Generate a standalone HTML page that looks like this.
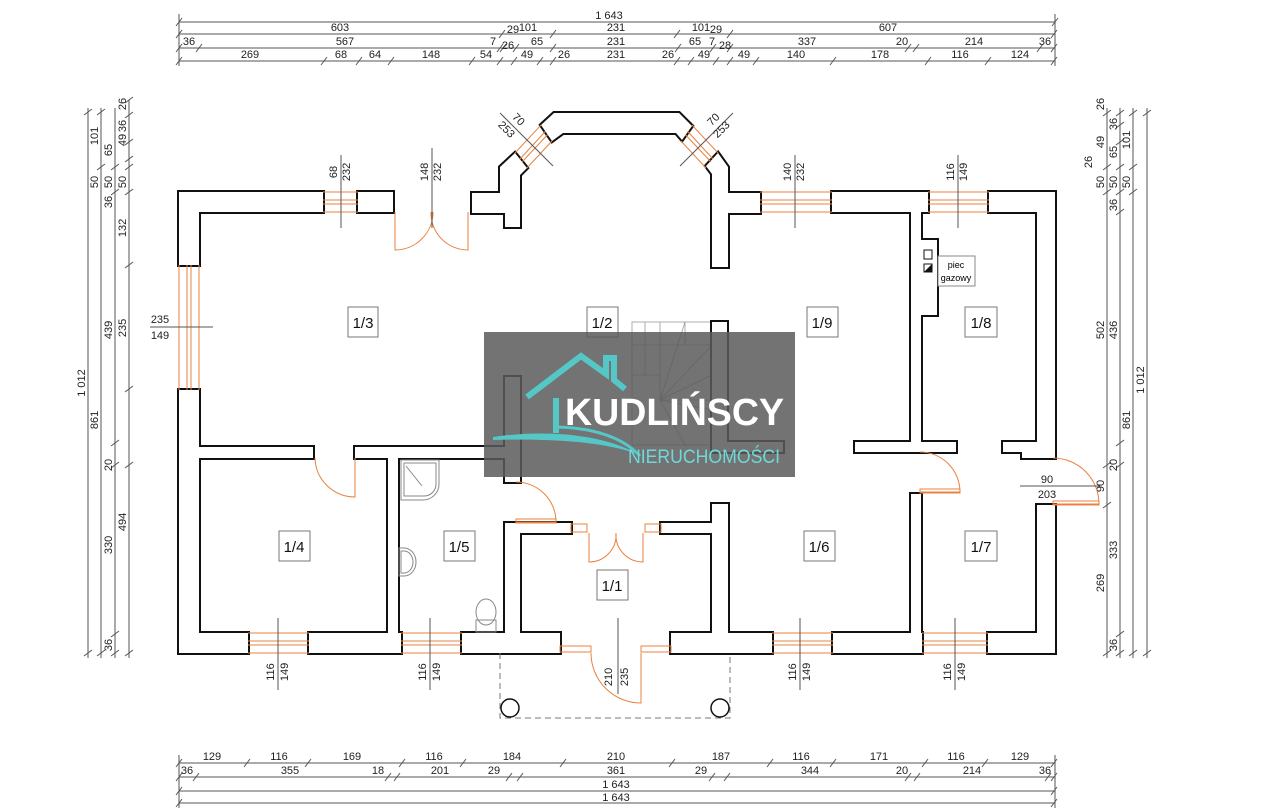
<!DOCTYPE html>
<html><head><meta charset="utf-8"><style>
html,body{margin:0;padding:0;background:#fff;}
svg{display:block;font-family:"Liberation Sans",sans-serif;}
.d{stroke:#555;stroke-width:1;fill:none}
.t{font-size:11px;fill:#222;text-anchor:middle}
.o{stroke:#e8823f;stroke-width:1;fill:none}
.wb rect,.wb polygon{stroke:#111;stroke-width:4}
.ww rect,.ww polygon{fill:#fff;stroke:none}
.lb{fill:#fff;stroke:#777;stroke-width:1}
.lt{font-size:15px;fill:#111;text-anchor:middle}
</style></head><body>
<svg width="1280" height="808" viewBox="0 0 1280 808" xmlns="http://www.w3.org/2000/svg">

<!-- TOP DIMENSIONS -->
<g class="d">
<line x1="179" y1="22" x2="1055" y2="22"/>
<line x1="179" y1="34" x2="1055" y2="34"/>
<line x1="179" y1="48" x2="1055" y2="48"/>
<line x1="179" y1="61" x2="1055" y2="61"/>
<path d="M176 26l6-8M1052 26l6-8
M176 38l6-8M499 38l6-8M550 38l6-8M674 38l6-8M727 38l6-8M1051 38l6-8
M176 52l6-8M196 52l6-8M497 52l6-8M500 52l6-8M513 52l6-8M550 52l6-8M675 52l6-8M710 52l6-8M727 52l6-8M905 52l6-8M913 52l6-8M1037 52l6-8M1051 52l6-8
M176 65l6-8M321 65l6-8M356 65l6-8M388 65l6-8M469 65l6-8M497 65l6-8M511 65l6-8M537 65l6-8M550 65l6-8M674 65l6-8M688 65l6-8M713 65l6-8M727 65l6-8M753 65l6-8M830 65l6-8M925 65l6-8M985 65l6-8M1051 65l6-8"/>
<line x1="179" y1="14" x2="179" y2="66"/><line x1="1055" y1="14" x2="1055" y2="66"/>
</g>
<g class="t">
<text x="609" y="19">1 643</text>
<text x="340" y="31">603</text><text x="513" y="33">29</text><text x="528" y="31">101</text><text x="616" y="31">231</text><text x="701" y="31">101</text><text x="716" y="33">29</text><text x="888" y="31">607</text>
<text x="189" y="45">36</text><text x="345" y="45">567</text><text x="493" y="45">7</text><text x="508" y="49">26</text><text x="537" y="45">65</text><text x="616" y="45">231</text><text x="695" y="45">65</text><text x="712" y="45">7</text><text x="725" y="49">28</text><text x="807" y="45">337</text><text x="902" y="45">20</text><text x="974" y="45">214</text><text x="1045" y="45">36</text>
<text x="250" y="58">269</text><text x="341" y="58">68</text><text x="375" y="58">64</text><text x="431" y="58">148</text><text x="486" y="58">54</text><text x="527" y="58">49</text><text x="564" y="58">26</text><text x="616" y="58">231</text><text x="668" y="58">26</text><text x="704" y="58">49</text><text x="744" y="58">49</text><text x="796" y="58">140</text><text x="880" y="58">178</text><text x="960" y="58">116</text><text x="1020" y="58">124</text>
</g>

<!-- BOTTOM DIMENSIONS -->
<g class="d">
<line x1="179" y1="763" x2="1055" y2="763"/>
<line x1="179" y1="777" x2="1055" y2="777"/>
<line x1="179" y1="791" x2="1055" y2="791"/>
<line x1="179" y1="803" x2="1055" y2="803"/>
<path d="M176 767l6-8M244 767l6-8M305 767l6-8M399 767l6-8M460 767l6-8M560 767l6-8M669 767l6-8M767 767l6-8M830 767l6-8M922 767l6-8M982 767l6-8M1051 767l6-8
M176 781l6-8M193 781l6-8M385 781l6-8M394 781l6-8M506 781l6-8M517 781l6-8M709 781l6-8M724 781l6-8M905 781l6-8M914 781l6-8M1045 781l6-8M1051 781l6-8
M176 795l6-8M1051 795l6-8M176 807l6-8M1051 807l6-8"/>
<line x1="179" y1="755" x2="179" y2="808"/><line x1="1055" y1="755" x2="1055" y2="808"/>
</g>
<g class="t">
<text x="212" y="760">129</text><text x="279" y="760">116</text><text x="352" y="760">169</text><text x="434" y="760">116</text><text x="512" y="760">184</text><text x="616" y="760">210</text><text x="721" y="760">187</text><text x="801" y="760">116</text><text x="879" y="760">171</text><text x="956" y="760">116</text><text x="1020" y="760">129</text>
<text x="187" y="774">36</text><text x="290" y="774">355</text><text x="378" y="774">18</text><text x="440" y="774">201</text><text x="494" y="774">29</text><text x="616" y="774">361</text><text x="701" y="774">29</text><text x="810" y="774">344</text><text x="902" y="774">20</text><text x="972" y="774">214</text><text x="1045" y="774">36</text>
<text x="616" y="788">1 643</text><text x="616" y="801">1 643</text>
</g>

<!-- LEFT DIMENSIONS -->
<g class="d">
<line x1="88" y1="108" x2="88" y2="658"/>
<line x1="101" y1="108" x2="101" y2="658"/>
<line x1="115" y1="108" x2="115" y2="658"/>
<line x1="129" y1="100" x2="129" y2="658"/>
<path d="M84 115l8-6M84 656l8-6M97 115l8-6M97 170l8-6M97 656l8-6M111 170l8-6M111 195l8-6M111 446l8-6M111 468l8-6M111 637l8-6M111 656l8-6
M125 103l8-6M125 118l8-6M125 145l8-6M125 162l8-6M125 170l8-6M125 195l8-6M125 268l8-6M125 392l8-6M125 468l8-6M125 656l8-6"/>
</g>
<g class="t">
<text transform="translate(85,383) rotate(-90)">1 012</text>
<text transform="translate(98,136) rotate(-90)">101</text><text transform="translate(98,182) rotate(-90)">50</text><text transform="translate(98,420) rotate(-90)">861</text>
<text transform="translate(112,150) rotate(-90)">65</text><text transform="translate(112,182) rotate(-90)">50</text><text transform="translate(112,202) rotate(-90)">36</text><text transform="translate(112,330) rotate(-90)">439</text><text transform="translate(112,545) rotate(-90)">330</text><text transform="translate(112,645) rotate(-90)">36</text>
<text transform="translate(126,104) rotate(-90)">26</text><text transform="translate(126,126) rotate(-90)">36</text><text transform="translate(126,140) rotate(-90)">49</text><text transform="translate(126,182) rotate(-90)">50</text><text transform="translate(126,228) rotate(-90)">132</text><text transform="translate(126,328) rotate(-90)">235</text><text transform="translate(112,465) rotate(-90)">20</text><text transform="translate(126,522) rotate(-90)">494</text>
</g>

<!-- RIGHT DIMENSIONS -->
<g class="d">
<line x1="1107" y1="108" x2="1107" y2="658"/>
<line x1="1120" y1="108" x2="1120" y2="658"/>
<line x1="1133" y1="108" x2="1133" y2="658"/>
<line x1="1147" y1="108" x2="1147" y2="658"/>
<path d="M1103 116l8-6M1103 170l8-6M1103 195l8-6M1103 468l8-6M1103 508l8-6M1103 656l8-6
M1116 116l8-6M1116 128l8-6M1116 145l8-6M1116 170l8-6M1116 195l8-6M1116 215l8-6M1116 446l8-6M1116 468l8-6M1116 637l8-6M1116 656l8-6
M1129 116l8-6M1129 170l8-6M1129 195l8-6M1129 656l8-6M1143 116l8-6M1143 656l8-6"/>
</g>
<g class="t">
<text transform="translate(1104,104) rotate(-90)">26</text><text transform="translate(1104,142) rotate(-90)">49</text><text transform="translate(1092,162) rotate(-90)">26</text><text transform="translate(1104,182) rotate(-90)">50</text><text transform="translate(1104,330) rotate(-90)">502</text><text transform="translate(1104,583) rotate(-90)">269</text><text transform="translate(1104,486) rotate(-90)">90</text>
<text transform="translate(1117,124) rotate(-90)">36</text><text transform="translate(1117,152) rotate(-90)">65</text><text transform="translate(1117,182) rotate(-90)">50</text><text transform="translate(1117,205) rotate(-90)">36</text><text transform="translate(1117,330) rotate(-90)">436</text><text transform="translate(1117,465) rotate(-90)">20</text><text transform="translate(1117,550) rotate(-90)">333</text><text transform="translate(1117,645) rotate(-90)">36</text>
<text transform="translate(1130,140) rotate(-90)">101</text><text transform="translate(1130,182) rotate(-90)">50</text><text transform="translate(1130,420) rotate(-90)">861</text>
<text transform="translate(1144,380) rotate(-90)">1 012</text>
</g>

<!-- STAIRS -->
<g stroke="#999" stroke-width="0.8" fill="none">
<rect x="632" y="322" width="80" height="123"/>
<line x1="632" y1="345" x2="712" y2="345"/><line x1="632" y1="375" x2="660" y2="375"/>
<line x1="645" y1="322" x2="645" y2="375"/><line x1="660" y1="322" x2="660" y2="400"/><line x1="685" y1="322" x2="685" y2="345"/>
<line x1="660" y1="400" x2="685" y2="322"/><line x1="660" y1="400" x2="712" y2="345"/><line x1="660" y1="400" x2="712" y2="375"/><line x1="660" y1="400" x2="712" y2="410"/><line x1="660" y1="400" x2="685" y2="445"/>
<line x1="660" y1="400" x2="712" y2="400"/>
</g>

<!-- WALLS -->
<g class="wb">
<rect x="179" y="192" width="144" height="20"/><rect x="179" y="192" width="20" height="73"/><rect x="358" y="192" width="35" height="20"/>
<polygon points="472,193 500,193 500,167 515,153 527,168 520,175 520,227 505,227 505,213 472,213"/>
<polygon points="541,125 554,113 679,113 692,126 682,140 676,133 563,133 552,141"/>
<polygon points="760,193 728,193 728,167 718,153 706,166 712,174 712,267 728,267 728,213 760,213"/>
<rect x="832" y="192" width="96" height="20"/><rect x="989" y="192" width="66" height="20"/>
<rect x="1037" y="192" width="18" height="266"/><rect x="1037" y="505" width="18" height="148"/>
<rect x="1003" y="442" width="34" height="10"/><rect x="1022" y="448" width="15" height="10"/>
<rect x="911" y="212" width="10" height="240"/><rect x="921" y="240" width="16" height="75"/>
<rect x="855" y="442" width="101" height="10"/><rect x="911" y="494" width="10" height="139"/>
<rect x="179" y="390" width="20" height="263"/>
<rect x="199" y="447" width="114" height="11"/><rect x="355" y="447" width="150" height="11"/>
<rect x="505" y="377" width="15" height="105"/>
<rect x="712" y="322" width="15" height="130"/><rect x="727" y="442" width="56" height="10"/>
<rect x="388" y="458" width="10" height="175"/>
<rect x="505" y="523" width="15" height="110"/><rect x="505" y="523" width="66" height="10"/>
<rect x="661" y="523" width="51" height="10"/><rect x="712" y="504" width="16" height="129"/>
<rect x="179" y="633" width="69" height="20"/><rect x="309" y="633" width="92" height="20"/><rect x="462" y="633" width="98" height="20"/>
<rect x="671" y="633" width="101" height="20"/><rect x="833" y="633" width="89" height="20"/><rect x="988" y="633" width="67" height="20"/>
</g>
<g class="ww">
<rect x="179" y="192" width="144" height="20"/><rect x="179" y="192" width="20" height="73"/><rect x="358" y="192" width="35" height="20"/>
<polygon points="472,193 500,193 500,167 515,153 527,168 520,175 520,227 505,227 505,213 472,213"/>
<polygon points="541,125 554,113 679,113 692,126 682,140 676,133 563,133 552,141"/>
<polygon points="760,193 728,193 728,167 718,153 706,166 712,174 712,267 728,267 728,213 760,213"/>
<rect x="832" y="192" width="96" height="20"/><rect x="989" y="192" width="66" height="20"/>
<rect x="1037" y="192" width="18" height="266"/><rect x="1037" y="505" width="18" height="148"/>
<rect x="1003" y="442" width="34" height="10"/><rect x="1022" y="448" width="15" height="10"/>
<rect x="911" y="212" width="10" height="240"/><rect x="921" y="240" width="16" height="75"/>
<rect x="855" y="442" width="101" height="10"/><rect x="911" y="494" width="10" height="139"/>
<rect x="179" y="390" width="20" height="263"/>
<rect x="199" y="447" width="114" height="11"/><rect x="355" y="447" width="150" height="11"/>
<rect x="505" y="377" width="15" height="105"/>
<rect x="712" y="322" width="15" height="130"/><rect x="727" y="442" width="56" height="10"/>
<rect x="388" y="458" width="10" height="175"/>
<rect x="505" y="523" width="15" height="110"/><rect x="505" y="523" width="66" height="10"/>
<rect x="661" y="523" width="51" height="10"/><rect x="712" y="504" width="16" height="129"/>
<rect x="179" y="633" width="69" height="20"/><rect x="309" y="633" width="92" height="20"/><rect x="462" y="633" width="98" height="20"/>
<rect x="671" y="633" width="101" height="20"/><rect x="833" y="633" width="89" height="20"/><rect x="988" y="633" width="67" height="20"/>
</g>

<!-- WINDOWS -->
<g class="o">
<path d="M323 192h35M323 212h35M323 200h35M323 204h35"/>
<path d="M760 192h72M760 212h72M760 200h72M760 204h72"/>
<path d="M928 192h61M928 212h61M928 200h61M928 204h61"/>
<path d="M179 265v125M199 265v125M187 265v125M191 265v125"/>
<path d="M248 633h61M248 653h61M248 641h61M248 645h61"/>
<path d="M401 633h61M401 653h61M401 641h61M401 645h61"/>
<path d="M772 633h61M772 653h61M772 641h61M772 645h61"/>
<path d="M922 633h66M922 653h66M922 641h66M922 645h66"/>
<path d="M541 125L515 153M552 141L527 168M545.4 131.4L520 159M547.6 134.6L522 162"/>
<path d="M692 125L718 153M681 141L706 168M687.6 131.4L713 159M685.4 134.6L711 162"/>
<!-- doors -->
<path d="M395 212v38A38 38 0 0 0 433 212"/><path d="M468 212v38A37 37 0 0 1 431 212"/>
<path d="M355 458v39A40 40 0 0 1 315 458"/>
<path d="M516 482A40 40 0 0 1 556 522H516"/><rect x="516" y="519" width="40" height="4"/>
<path d="M589 533v29A27 27 0 0 0 616 533"/><path d="M643 533v29A27 27 0 0 1 616 533"/>
<rect x="571" y="524" width="16" height="8"/><rect x="645" y="524" width="16" height="8"/>
<path d="M591 653A50 50 0 0 0 641 703V653"/><rect x="560" y="646" width="31" height="6"/><rect x="641" y="646" width="30" height="6"/>
<path d="M920 452A40 40 0 0 1 960 492H920"/><rect x="920" y="489" width="40" height="4"/>
<path d="M1053 458A46 46 0 0 1 1099 504H1053"/><rect x="1053" y="501" width="46" height="4"/>
</g>

<!-- porch -->
<g stroke="#777" stroke-width="1" fill="none" stroke-dasharray="6,4">
<path d="M500 653V718H730V653"/>
</g>
<circle cx="510" cy="708" r="9" fill="#fff" stroke="#111" stroke-width="1.5"/>
<circle cx="720" cy="708" r="9" fill="#fff" stroke="#111" stroke-width="1.5"/>

<!-- fixtures -->
<g stroke="#888" stroke-width="1" fill="none">
<path d="M401 460h38v24a16 16 0 0 1-16 16h-22z"/><path d="M404 463h32v20a12 12 0 0 1-12 13h-20z"/><line x1="406" y1="466" x2="422" y2="486"/>
<path d="M399 548h5a12 14 0 0 1 0 28h-5z"/><path d="M401 551h3a9 11 0 0 1 0 22h-3z"/>
<ellipse cx="486" cy="612" rx="10" ry="13"/><path d="M476 620h20v12h-20z"/>
</g>
<rect x="924" y="250" width="8" height="9" fill="#fff" stroke="#111"/>
<rect x="924" y="264" width="8" height="8" fill="#fff" stroke="#111"/><path d="M924 272l8-8v8z" fill="#111"/>
<rect x="938" y="256" width="37" height="30" fill="#fff" stroke="#888"/>
<text x="956" y="268" style="font-size:9px;text-anchor:middle">piec</text>
<text x="956" y="281" style="font-size:9px;text-anchor:middle">gazowy</text>

<!-- window / door dim lines -->
<g class="d" stroke="#666">
<line x1="341" y1="155" x2="341" y2="228"/><line x1="432" y1="148" x2="432" y2="228"/>
<line x1="795" y1="155" x2="795" y2="228"/><line x1="958" y1="155" x2="958" y2="228"/>
<line x1="150" y1="327" x2="213" y2="327"/>
<line x1="278" y1="618" x2="278" y2="690"/><line x1="430" y1="618" x2="430" y2="690"/>
<line x1="618" y1="618" x2="618" y2="694"/>
<line x1="800" y1="618" x2="800" y2="690"/><line x1="955" y1="618" x2="955" y2="690"/>
<line x1="1020" y1="486" x2="1100" y2="486"/>
<line x1="500" y1="113" x2="553" y2="166"/><line x1="733" y1="113" x2="680" y2="166"/>
</g>
<g class="t">
<text transform="translate(337,172) rotate(-90)">68</text><text transform="translate(350,172) rotate(-90)">232</text>
<text transform="translate(428,172) rotate(-90)">148</text><text transform="translate(441,172) rotate(-90)">232</text>
<text transform="translate(791,172) rotate(-90)">140</text><text transform="translate(804,172) rotate(-90)">232</text>
<text transform="translate(954,172) rotate(-90)">116</text><text transform="translate(967,172) rotate(-90)">149</text>
<text x="160" y="323">235</text><text x="160" y="339">149</text>
<text transform="translate(274,672) rotate(-90)">116</text><text transform="translate(288,672) rotate(-90)">149</text>
<text transform="translate(426,672) rotate(-90)">116</text><text transform="translate(440,672) rotate(-90)">149</text>
<text transform="translate(612,677) rotate(-90)">210</text><text transform="translate(628,677) rotate(-90)">235</text>
<text transform="translate(796,672) rotate(-90)">116</text><text transform="translate(810,672) rotate(-90)">149</text>
<text transform="translate(951,672) rotate(-90)">116</text><text transform="translate(965,672) rotate(-90)">149</text>
<text x="1047" y="483">90</text><text x="1047" y="498">203</text>
<text transform="translate(516,122) rotate(45)">70</text><text transform="translate(504,132) rotate(45)">253</text>
<text transform="translate(716,122) rotate(-45)">70</text><text transform="translate(724,132) rotate(-45)">253</text>
</g>

<!-- room labels -->
<g>
<rect class="lb" x="348" y="307" width="30" height="30"/><text class="lt" x="363" y="328">1/3</text>
<rect class="lb" x="587" y="307" width="31" height="30"/><text class="lt" x="602" y="328">1/2</text>
<rect class="lb" x="807" y="307" width="31" height="30"/><text class="lt" x="822" y="328">1/9</text>
<rect class="lb" x="965" y="307" width="32" height="30"/><text class="lt" x="981" y="328">1/8</text>
<rect class="lb" x="279" y="531" width="31" height="30"/><text class="lt" x="294" y="552">1/4</text>
<rect class="lb" x="444" y="531" width="31" height="30"/><text class="lt" x="459" y="552">1/5</text>
<rect class="lb" x="597" y="570" width="31" height="30"/><text class="lt" x="612" y="591">1/1</text>
<rect class="lb" x="804" y="531" width="31" height="30"/><text class="lt" x="819" y="552">1/6</text>
<rect class="lb" x="965" y="531" width="32" height="30"/><text class="lt" x="981" y="552">1/7</text>
</g>

<!-- LOGO overlay -->
<rect x="484" y="332" width="311" height="145" fill="#5a5a5a" fill-opacity="0.85"/>
<g fill="none" stroke="#55c7c7" stroke-width="6" stroke-linejoin="miter">
<path d="M527 397L581 356L606 374V358H614V380L625 389"/>
<path d="M556 398V433"/>
</g>
<path d="M493 437C540 430 600 432 640 455C610 443 560 438 493 440Z" fill="#55c7c7"/>
<path d="M556 427C600 428 625 440 640 456" stroke="#55c7c7" stroke-width="3" fill="none"/>
<text x="565" y="425" textLength="219" lengthAdjust="spacingAndGlyphs" style="font-size:38px;font-weight:bold;fill:#fff">KUDLIŃSCY</text>
<text x="628" y="463" textLength="152" lengthAdjust="spacingAndGlyphs" style="font-size:19px;fill:#6fd8d8">NIERUCHOMOŚCI</text>
</svg>
</body></html>
